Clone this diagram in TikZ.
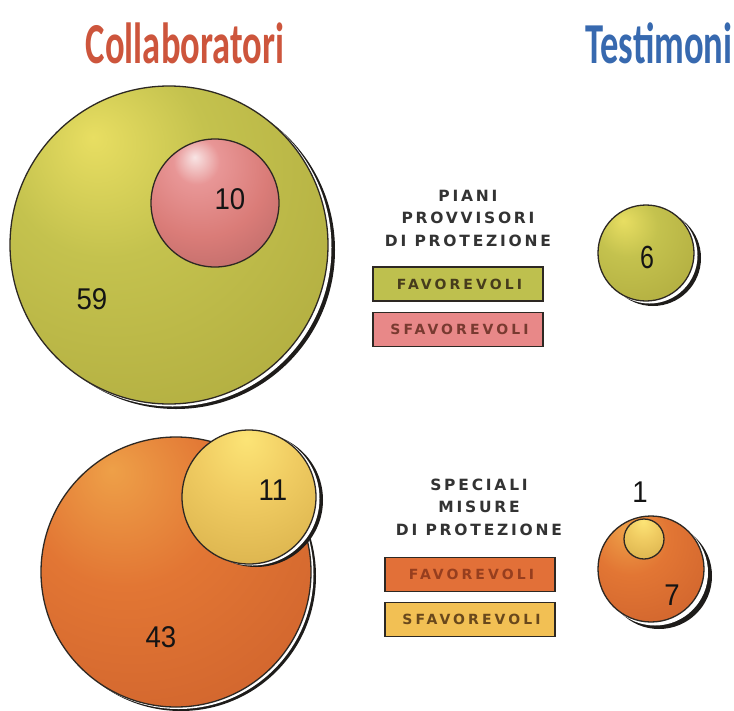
\documentclass[tikz,border=0pt]{standalone}
\usepackage{fontspec}
\setmainfont{Liberation Sans}
\newfontfamily\titlefont{Carlito}
\newfontfamily\capsfont[LetterSpace=18]{DejaVu Sans}
\newfontfamily\boxfont[LetterSpace=22]{DejaVu Sans}
\definecolor{titleRed}{RGB}{205,85,60}
\definecolor{titleBlue}{RGB}{55,105,175}
\definecolor{gHi}{RGB}{232,222,98}
\definecolor{gMid}{RGB}{196,194,78}
\definecolor{gBase}{RGB}{180,176,66}
\definecolor{gDark}{RGB}{136,126,48}
\definecolor{pHi}{RGB}{248,228,228}
\definecolor{pMid}{RGB}{232,150,150}
\definecolor{pBase}{RGB}{218,124,120}
\definecolor{pDark}{RGB}{170,96,96}
\definecolor{oHi}{RGB}{238,160,72}
\definecolor{oMid}{RGB}{226,118,52}
\definecolor{oBase}{RGB}{210,102,46}
\definecolor{oDark}{RGB}{168,78,34}
\definecolor{yHi}{RGB}{252,228,118}
\definecolor{yMid}{RGB}{240,204,98}
\definecolor{yBase}{RGB}{220,180,78}
\definecolor{yDark}{RGB}{178,140,52}
\definecolor{boxGreen}{RGB}{190,192,78}
\definecolor{boxPink}{RGB}{232,136,136}
\definecolor{boxOrange}{RGB}{226,112,56}
\definecolor{boxYellow}{RGB}{242,192,84}
\definecolor{rimc}{RGB}{45,40,35}
\definecolor{shadowc}{RGB}{30,28,26}
\pgfdeclareradialshading{greenball}{\pgfpoint{-12bp}{17bp}}{color(0bp)=(gHi); color(16bp)=(gMid); color(38bp)=(gBase); color(52bp)=(gDark); color(90bp)=(gDark)}
\pgfdeclareradialshading{pinkball}{\pgfpoint{-8bp}{18bp}}{color(0bp)=(pHi); color(9bp)=(pMid); color(26bp)=(pBase); color(52bp)=(pDark); color(90bp)=(pDark)}
\pgfdeclareradialshading{orangeball}{\pgfpoint{-12bp}{19bp}}{color(0bp)=(oHi); color(18bp)=(oMid); color(40bp)=(oBase); color(54bp)=(oDark); color(90bp)=(oDark)}
\pgfdeclareradialshading{yellowball}{\pgfpoint{-1bp}{22bp}}{color(0bp)=(yHi); color(18bp)=(yMid); color(40bp)=(yBase); color(54bp)=(yDark); color(90bp)=(yDark)}
\begin{document}
\begin{tikzpicture}[x=1pt,y=-1pt,
  rim/.style={draw=rimc,line width=1.3pt},
  title/.style={font=\titlefont\bfseries\fontsize{58}{60}\selectfont,xscale=0.63,transform shape,anchor=base,inner sep=0pt},
  num/.style={font=\fontsize{30}{32}\selectfont,text=black!92,xscale=0.92,transform shape,inner sep=0pt},
  heading/.style={font=\capsfont\bfseries\fontsize{15.5}{22.5}\selectfont,text=black!80,align=center,inner sep=0pt},
  legend/.style={draw=rimc,line width=1.6pt,minimum width=170pt,minimum height=34pt,inner sep=0pt,font=\boxfont\bfseries\fontsize{14}{15}\selectfont}
]
\useasboundingbox[fill=white] (0,0) rectangle (734,710);

% titles
\node[title,text=titleRed] (tcoll) at (185,63) {Collaboratori};
\node[title,text=titleBlue] (ttest) at (659,63) {Testimoni};

% --- top left: big green sphere with pink sphere
\fill[shadowc] (176,250) circle (159pt);
\fill[white] (172.5,247.5) circle (159pt);
\shadedraw[shading=greenball,rim] (169,245) circle (159pt);
\shadedraw[shading=pinkball,rim] (215,203) circle (64pt);
\node[num] (n59) at (92,299) {59};
\node[num] (n10) at (230,199) {10};

% --- top right: small green sphere
\fill[shadowc] (653,258) circle (48pt);
\fill[white] (649.5,255.5) circle (48pt);
\shadedraw[shading=greenball,rim] (646,253) circle (48pt);
\node[num,font=\fontsize{32}{34}\selectfont,xscale=0.85] (n6) at (647,257) {6};

% --- top legend
\node[heading] (h1) at (468,218) {PIANI\\PROVVISORI\\DI PROTEZIONE};
\node[legend,fill=boxGreen,text={rgb,255:red,70;green,60;blue,28}] (fav1) at (458,284) {FAVOREVOLI\kern-3pt};
\node[legend,fill=boxPink,text={rgb,255:red,120;green,58;blue,48}] (sfav1) at (458,329.5) {SFAVOREVOLI\kern-3pt};

% --- bottom left: big orange sphere with yellow sphere
\fill[shadowc] (181,576) circle (135pt);
\fill[white] (178.5,574) circle (135pt);
\shadedraw[shading=orangeball,rim] (176,572) circle (135pt);
\fill[shadowc] (256,500) circle (67pt);
\fill[white] (252.5,498.5) circle (67pt);
\shadedraw[shading=yellowball,rim] (249,497) circle (67pt);
\node[num] (n43) at (161,637) {43};
\node[num] (n11) at (273,490) {11};

% --- bottom right: small orange sphere with small yellow sphere
\fill[shadowc] (659,576) circle (53pt);
\fill[white] (655,572.5) circle (53pt);
\shadedraw[shading=orangeball,rim] (651,569) circle (53pt);
\shadedraw[shading=yellowball,rim] (644,539) circle (20pt);
\node[num] (n1) at (640,492) {1};
\node[num] (n7) at (672,595) {7};

% --- bottom legend
\node[heading] (h2) at (479,507) {SPECIALI\\MISURE\\DI PROTEZIONE};
\node[legend,fill=boxOrange,text={rgb,255:red,150;green,62;blue,30}] (fav2) at (470,574.5) {FAVOREVOLI\kern-3pt};
\node[legend,fill=boxYellow,text={rgb,255:red,105;green,72;blue,28}] (sfav2) at (470,619.5) {SFAVOREVOLI\kern-3pt};
\end{tikzpicture}
\end{document}
